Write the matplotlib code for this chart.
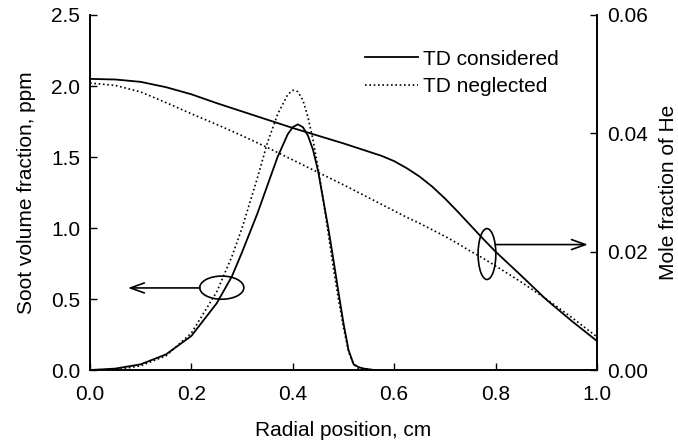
import matplotlib.pyplot as plt
from matplotlib.patches import Ellipse
import numpy as np

plt.rcParams['font.family'] = ['Liberation Sans', 'DejaVu Sans']

# radial position, cm
r = [0.00, 0.05, 0.10, 0.15, 0.20, 0.25, 0.30, 0.35, 0.40, 0.45, 0.50,
     0.55, 0.575, 0.60, 0.625, 0.65, 0.675, 0.70, 0.725, 0.75, 0.775, 0.80,
     0.85, 0.90, 0.95, 1.00]

# He mole fraction, with and without thermal diffusion
he_td = [0.0492, 0.0491, 0.0487, 0.0478, 0.0466, 0.0451, 0.0437, 0.0423, 0.0409, 0.0396, 0.0383,
         0.0369, 0.0362, 0.0353, 0.0341, 0.0327, 0.0310, 0.0290, 0.0268, 0.0245, 0.0222, 0.0200,
         0.0160, 0.0119, 0.0083, 0.0049]
he_notd = [0.0485, 0.0481, 0.0470, 0.0452, 0.0433, 0.0415, 0.0396, 0.0376, 0.0355, 0.0334, 0.0313,
           0.0291, 0.0280, 0.0269, 0.0258, 0.0248, 0.0237, 0.0226, 0.0214, 0.0201, 0.0189, 0.0176,
           0.0149, 0.0120, 0.0089, 0.0056]

# soot volume fraction, ppm
r_soot = [0.00, 0.05, 0.10, 0.15, 0.20, 0.25, 0.28, 0.30, 0.33, 0.35, 0.37, 0.39, 0.40,
          0.41, 0.42, 0.43, 0.44, 0.45, 0.46, 0.47, 0.48, 0.49, 0.50, 0.51, 0.52, 0.53,
          0.54, 0.56]
fv_td = [0.00, 0.01, 0.04, 0.11, 0.24, 0.47, 0.66, 0.83, 1.10, 1.30, 1.50, 1.66, 1.71,
         1.73, 1.71, 1.65, 1.55, 1.40, 1.20, 1.00, 0.78, 0.55, 0.33, 0.14, 0.04, 0.02,
         0.01, 0.00]
fv_notd = [0.00, 0.00, 0.03, 0.10, 0.26, 0.55, 0.80, 1.00, 1.35, 1.60, 1.80, 1.94, 1.97,
           1.96, 1.90, 1.78, 1.62, 1.42, 1.20, 0.96, 0.72, 0.50, 0.30, 0.13, 0.04, 0.01,
           0.01, 0.00]

fig = plt.figure(figsize=(6.78, 4.45), dpi=100)
ax = fig.add_axes([0.1327, 0.1685, 0.7478, 0.7978])
ax2 = ax.twinx()

ax.plot(r_soot, fv_td, color='black', lw=1.3, label='TD considered')
ax.plot(r_soot, fv_notd, color='black', lw=1.2, ls=(0, (1, 1.6)), label='TD neglected')
ax2.plot(r, he_td, color='black', lw=1.3)
ax2.plot(r, he_notd, color='black', lw=1.2, ls=(0, (1, 1.6)))

ax.set_xlim(0, 1.0)
ax.set_ylim(0, 2.5)
ax2.set_ylim(0, 0.06)
ax.set_xticks(np.arange(0, 1.01, 0.2))
ax.set_yticks(np.arange(0, 2.51, 0.5))
ax2.set_yticks([0.0, 0.02, 0.04, 0.06])
ax.xaxis.set_major_formatter(plt.FormatStrFormatter('%.1f'))
ax.yaxis.set_major_formatter(plt.FormatStrFormatter('%.1f'))
ax2.yaxis.set_major_formatter(plt.FormatStrFormatter('%.2f'))

for a in (ax, ax2):
    a.spines['top'].set_visible(False)
    for s in a.spines.values():
        s.set_linewidth(1.2)
ax.tick_params(axis='x', direction='in', length=5, width=1, pad=11, labelsize=15)
ax.tick_params(axis='y', direction='in', length=5, width=1, pad=7, labelsize=15)
ax2.tick_params(axis='y', direction='in', length=5, width=1, pad=7, labelsize=15)

ax.set_xlabel('Radial position, cm', fontsize=15, labelpad=12)
ax.set_ylabel('Soot volume fraction, ppm', fontsize=15, labelpad=11)
ax2.set_ylabel('Mole fraction of He', fontsize=15, labelpad=8)

# ellipses and arrows marking which axis each pair of curves uses
ax.add_patch(Ellipse((0.26, 0.58), 0.087, 0.163, fill=False, color='black', lw=1.2))
ax.annotate('', xy=(0.075, 0.578), xytext=(0.217, 0.578),
            arrowprops=dict(arrowstyle='->, head_length=0.5, head_width=0.18',
                            mutation_scale=20, color='black', lw=1.2,
                            shrinkA=0, shrinkB=0))
ax2.add_patch(Ellipse((0.783, 0.0196), 0.035, 0.0086, fill=False, color='black', lw=1.2))
ax2.annotate('', xy=(0.982, 0.0212), xytext=(0.80, 0.0212),
             arrowprops=dict(arrowstyle='->, head_length=0.5, head_width=0.18',
                             mutation_scale=20, color='black', lw=1.2,
                             shrinkA=0, shrinkB=0))

ax.legend(loc='upper left', bbox_to_anchor=(0.542, 0.902), frameon=False,
          fontsize=15, handlelength=2.55, handletextpad=0.25, labelspacing=0.4,
          borderpad=0, borderaxespad=0)

fig.savefig('out.png', dpi=100)
